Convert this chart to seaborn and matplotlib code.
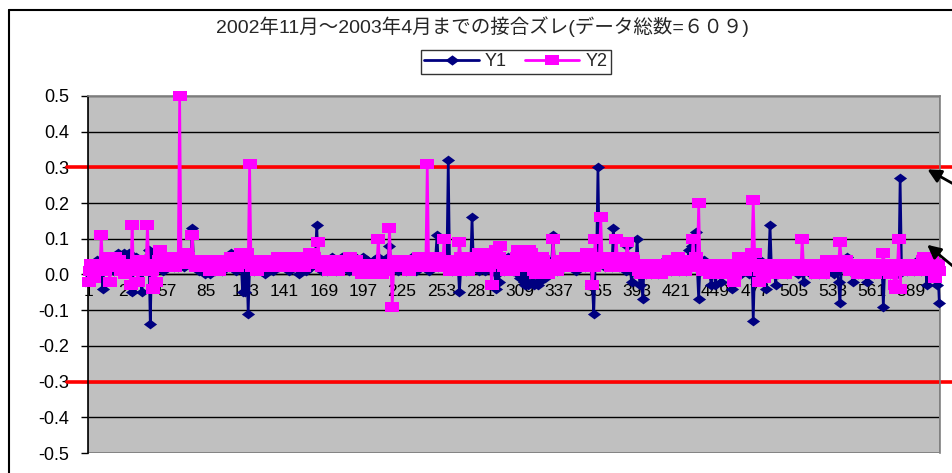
import matplotlib
matplotlib.use("Agg")
import matplotlib.pyplot as plt
from matplotlib.lines import Line2D
from matplotlib.patches import Rectangle
import pandas as pd
import seaborn as sns

TITLE = "2002年11月～2003年4月までの接合ズレ(データ総数=６０９)"
SERIES = ["Y1", "Y2"]
COLORS = {"Y1": "#000080", "Y2": "#FF00FF"}

# joint offset per record, 28 records per row
Y1 = [
    0.00, 0.02, 0.03, 0.01, 0.03, 0.02, 0.04, 0.03, 0.01, 0.02, -0.04, 0.03, 0.04, 0.02, 0.05, 0.03, 0.02, 0.04, 0.01, 0.03, 0.05, 0.06, 0.04, 0.03, 0.05, 0.06, 0.04, 0.05,
    0.04, 0.06, 0.03, -0.05, 0.02, 0.04, 0.05, 0.03, 0.02, 0.01, -0.05, 0.03, 0.04, 0.02, 0.05, 0.07, -0.14, 0.04, 0.06, 0.03, 0.05, 0.02, 0.04, 0.05, 0.03, 0.01, 0.04, 0.02,
    0.03, 0.02, 0.04, 0.03, 0.05, 0.02, 0.03, 0.04, 0.02, 0.03, 0.05, 0.04, 0.02, 0.03, 0.04, 0.05, 0.03, 0.04, 0.13, 0.03, 0.02, 0.04, 0.03, 0.01, 0.02, 0.04, 0.03, 0.00,
    0.01, 0.03, 0.02, 0.00, 0.02, 0.03, 0.01, 0.02, 0.04, 0.03, 0.02, 0.01, 0.03, 0.02, 0.04, 0.03, 0.02, 0.04, 0.06, 0.03, 0.02, 0.01, 0.03, 0.02, 0.04, 0.03, -0.05, 0.02,
    -0.05, 0.03, -0.11, 0.02, 0.03, 0.02, 0.01, 0.03, 0.02, 0.04, 0.03, 0.01, 0.02, 0.03, 0.00, 0.02, 0.03, 0.04, 0.02, 0.03, 0.01, 0.02, 0.04, 0.03, 0.02, 0.04, 0.03, 0.05,
    0.04, 0.02, 0.03, 0.01, 0.03, 0.04, 0.02, 0.03, 0.05, 0.02, 0.00, 0.03, 0.04, 0.02, 0.03, 0.01, 0.02, 0.04, 0.03, 0.02, 0.03, 0.05, 0.04, 0.14, 0.03, 0.02, 0.04, 0.01,
    0.02, 0.03, 0.01, 0.04, 0.02, 0.03, 0.05, 0.02, 0.03, 0.01, 0.04, 0.02, 0.03, 0.05, 0.03, 0.02, 0.04, 0.03, 0.01, 0.02, 0.04, 0.03, 0.05, 0.02, 0.03, 0.04, 0.02, 0.03,
    0.05, 0.03, 0.02, 0.04, 0.03, 0.01, 0.02, 0.03, 0.04, 0.02, 0.03, 0.05, 0.03, 0.02, 0.04, 0.01, 0.03, 0.02, 0.05, 0.08, 0.03, 0.02, 0.04, 0.03, 0.02, 0.01, 0.03, 0.04,
    0.02, 0.04, 0.03, 0.01, 0.02, 0.04, 0.03, 0.05, 0.02, 0.03, 0.01, 0.04, 0.02, 0.03, 0.05, 0.03, 0.02, 0.04, 0.03, 0.01, 0.03, 0.02, 0.04, 0.03, 0.05, 0.11, 0.02, 0.03,
    0.04, 0.02, 0.03, 0.05, 0.03, 0.32, 0.02, 0.04, 0.01, 0.03, 0.02, 0.04, 0.03, -0.05, 0.02, 0.03, 0.04, 0.02, 0.01, 0.03, 0.05, 0.02, 0.16, 0.03, 0.02, 0.04, 0.03, 0.01,
    0.02, 0.04, 0.03, 0.01, 0.05, 0.03, 0.02, 0.04, 0.01, 0.03, 0.02, -0.04, 0.00, -0.02, 0.03, 0.02, 0.04, 0.01, 0.03, 0.02, 0.05, 0.03, 0.02, 0.01, 0.03, 0.04, 0.02, 0.00,
    -0.01, 0.01, 0.02, -0.02, -0.03, 0.00, -0.03, 0.01, 0.02, -0.02, -0.03, 0.00, 0.01, -0.03, -0.02, 0.01, 0.02, 0.00, -0.01, 0.02, 0.03, 0.01, 0.02, 0.04, 0.11, 0.02, 0.03, 0.01,
    0.02, 0.04, 0.03, 0.05, 0.02, 0.03, 0.04, 0.03, 0.05, 0.02, 0.04, 0.03, 0.01, 0.03, 0.04, 0.02, 0.05, 0.03, 0.04, 0.02, 0.03, 0.05, 0.04, 0.02, -0.03, -0.11, 0.02, 0.04,
    0.30, 0.05, 0.04, 0.03, 0.05, 0.02, 0.04, 0.05, 0.03, 0.04, 0.02, 0.13, 0.05, 0.03, 0.04, 0.02, 0.03, 0.04, 0.02, 0.03, 0.01, 0.08, 0.03, 0.02, -0.02, 0.01, 0.03, 0.02,
    0.10, 0.02, -0.03, 0.01, -0.07, 0.02, 0.00, 0.03, 0.01, 0.02, 0.00, 0.03, 0.02, 0.01, 0.03, 0.00, 0.02, 0.01, 0.03, 0.02, 0.04, 0.01, 0.02, 0.03, 0.01, 0.02, 0.04, 0.03,
    0.02, 0.03, 0.01, 0.02, 0.04, 0.03, 0.02, 0.01, 0.03, 0.07, 0.05, 0.08, 0.06, 0.03, 0.12, 0.02, -0.07, 0.03, 0.01, 0.02, 0.04, 0.03, 0.02, 0.01, 0.00, -0.03, 0.02, 0.01,
    -0.03, 0.02, 0.01, 0.03, -0.02, 0.02, 0.03, 0.01, 0.02, 0.03, 0.00, 0.02, -0.04, 0.01, 0.02, 0.03, 0.01, 0.02, 0.00, 0.03, 0.02, 0.01, 0.03, 0.02, 0.00, 0.02, 0.03, -0.13,
    0.02, 0.02, 0.03, 0.01, 0.04, 0.02, 0.03, 0.01, -0.04, 0.02, 0.03, 0.14, 0.02, 0.01, 0.03, -0.03, 0.02, 0.00, 0.03, 0.02, 0.01, 0.03, 0.02, 0.00, 0.02, 0.03, 0.01, 0.02,
    0.03, 0.01, 0.02, 0.00, 0.03, 0.02, 0.01, -0.02, 0.02, 0.03, 0.01, 0.02, 0.00, 0.03, 0.02, 0.01, 0.02, 0.03, 0.00, 0.02, 0.01, 0.03, 0.02, 0.00, 0.01, 0.02, 0.03, 0.01,
    0.02, 0.00, 0.01, 0.03, -0.02, -0.08, 0.02, 0.03, 0.04, 0.02, 0.05, 0.02, 0.01, 0.03, -0.02, 0.02, 0.01, 0.03, 0.00, 0.02, 0.01, 0.00, 0.02, 0.01, -0.02, 0.02, 0.00, 0.01,
    0.02, 0.00, 0.01, 0.03, 0.02, 0.01, 0.00, 0.03, -0.09, 0.02, 0.01, 0.03, 0.02, 0.00, 0.01, 0.02, 0.03, 0.01, 0.02, 0.00, 0.27, 0.02, 0.01, 0.03, 0.02, 0.01, 0.03, 0.02,
    0.02, 0.03, 0.01, 0.02, 0.03, 0.04, 0.02, 0.01, 0.03, 0.04, 0.05, -0.03, 0.02, 0.03, 0.01, 0.02, 0.04, 0.03, -0.03, 0.01, -0.08,
]

Y2 = [
    -0.02, 0.01, 0.03, 0.02, -0.01, 0.02, 0.03, 0.01, 0.02, 0.11, 0.02, 0.03, 0.01, 0.04, 0.05, -0.02, 0.03, 0.02, 0.04, 0.05, 0.03, 0.02, 0.04, 0.01, 0.03, 0.02, 0.00, 0.03,
    0.02, 0.03, -0.03, 0.14, 0.02, 0.01, 0.03, -0.02, 0.02, 0.04, 0.03, 0.01, 0.02, 0.03, 0.14, 0.02, 0.03, 0.01, -0.04, 0.02, -0.02, 0.03, 0.04, 0.07, 0.03, 0.02, 0.04, 0.03,
    0.03, 0.04, 0.02, 0.05, 0.03, 0.04, 0.02, 0.03, 0.05, 0.50, 0.04, 0.05, 0.03, 0.06, 0.04, 0.05, 0.03, 0.04, 0.11, 0.03, 0.04, 0.02, 0.03, 0.04, 0.02, 0.03, 0.04, 0.02,
    0.03, 0.02, 0.04, 0.01, 0.03, 0.02, 0.04, 0.03, 0.02, 0.01, 0.03, 0.02, 0.04, 0.02, 0.03, 0.02, 0.04, 0.03, 0.05, 0.02, 0.03, 0.04, 0.02, 0.05, 0.04, 0.06, 0.03, 0.04,
    0.05, 0.06, 0.03, 0.31, 0.04, 0.02, 0.03, 0.02, 0.01, 0.03, 0.02, 0.03, 0.04, 0.02, 0.03, 0.04, 0.02, 0.03, 0.04, 0.03, 0.02, 0.04, 0.03, 0.05, 0.03, 0.04, 0.02, 0.03,
    0.04, 0.03, 0.02, 0.04, 0.03, 0.05, 0.02, 0.04, 0.03, 0.02, 0.04, 0.03, 0.05, 0.04, 0.02, 0.03, 0.04, 0.05, 0.06, 0.04, 0.03, 0.05, 0.04, 0.03, 0.09, 0.04, 0.03, 0.02,
    0.03, 0.04, 0.02, 0.03, 0.01, 0.04, 0.03, 0.02, 0.04, 0.03, 0.01, 0.03, 0.04, 0.02, 0.03, 0.04, 0.02, 0.03, 0.04, 0.05, 0.04, 0.03, 0.02, 0.04, 0.03, 0.01, 0.02, 0.00,
    0.02, 0.01, 0.03, 0.00, 0.02, 0.01, 0.03, 0.02, 0.00, 0.01, 0.03, 0.10, 0.02, 0.01, 0.00, 0.02, 0.01, 0.03, 0.02, 0.13, 0.03, -0.09, 0.02, 0.04, 0.03, 0.02, 0.04, 0.03,
    0.04, 0.03, 0.02, 0.04, 0.03, 0.01, 0.02, 0.04, 0.03, 0.02, 0.04, 0.03, 0.05, 0.02, 0.04, 0.03, 0.05, 0.04, 0.31, 0.03, 0.05, 0.04, 0.02, 0.03, 0.04, 0.02, 0.05, 0.03,
    0.04, 0.03, 0.10, 0.02, 0.04, 0.03, 0.01, 0.03, 0.04, 0.02, 0.03, 0.01, 0.04, 0.09, 0.05, 0.03, 0.02, 0.04, 0.03, 0.01, 0.02, 0.03, 0.04, 0.02, 0.05, 0.03, 0.04, 0.06,
    0.04, 0.03, 0.05, 0.02, 0.04, 0.03, 0.02, 0.05, -0.03, 0.06, 0.04, 0.07, 0.03, 0.05, 0.08, 0.04, 0.03, 0.02, 0.04, 0.01, 0.03, 0.02, 0.04, 0.01, 0.02, 0.03, 0.05, 0.07,
    0.06, 0.03, 0.05, 0.02, 0.04, 0.03, 0.05, 0.07, 0.06, 0.02, 0.01, 0.03, 0.00, 0.02, 0.01, 0.03, 0.05, 0.04, 0.01, 0.02, 0.00, 0.02, 0.03, 0.01, 0.10, 0.02, 0.03, 0.01,
    0.02, 0.03, 0.04, 0.02, 0.03, 0.05, 0.03, 0.04, 0.02, 0.04, 0.03, 0.05, 0.04, 0.03, 0.05, 0.04, 0.02, 0.03, 0.05, 0.04, 0.06, 0.03, 0.04, 0.05, -0.03, 0.02, 0.10, 0.04,
    0.03, 0.05, 0.16, 0.04, 0.03, 0.05, 0.04, 0.03, 0.05, 0.02, 0.04, 0.03, 0.03, 0.10, 0.04, 0.05, 0.03, 0.04, 0.02, 0.03, 0.05, 0.09, 0.03, 0.02, 0.05, 0.04, 0.03, 0.02,
    0.03, 0.01, 0.02, 0.00, 0.03, 0.02, 0.01, 0.03, 0.02, 0.00, 0.02, 0.03, 0.01, 0.02, 0.03, 0.01, 0.02, 0.00, 0.03, 0.02, 0.01, 0.03, 0.02, 0.04, 0.03, 0.02, 0.01, 0.03,
    0.04, 0.05, 0.03, 0.04, 0.02, 0.03, 0.01, 0.02, 0.03, 0.02, 0.04, 0.03, 0.10, 0.04, 0.05, 0.03, 0.20, 0.02, 0.03, 0.01, 0.02, 0.03, 0.01, 0.02, 0.00, 0.02, 0.01, 0.03,
    0.01, 0.02, 0.00, 0.02, 0.01, 0.03, 0.02, 0.00, 0.01, 0.02, 0.00, 0.03, 0.01, -0.02, 0.00, 0.02, 0.03, 0.05, 0.04, 0.02, 0.03, 0.01, 0.02, 0.05, 0.04, 0.03, 0.06, 0.21,
    0.06, 0.03, 0.02, -0.02, 0.01, 0.03, 0.00, -0.01, 0.02, 0.03, 0.01, 0.02, 0.03, 0.01, 0.02, 0.00, 0.03, 0.02, 0.01, 0.03, 0.02, 0.01, 0.00, 0.02, 0.03, 0.01, 0.02, 0.01,
    0.02, 0.03, 0.01, 0.02, 0.03, 0.01, 0.10, 0.02, 0.01, 0.03, 0.02, 0.01, 0.02, 0.03, 0.01, 0.02, 0.00, 0.02, 0.03, 0.01, 0.02, 0.00, 0.03, 0.02, 0.04, 0.03, 0.02, 0.03,
    0.04, 0.03, 0.02, 0.04, 0.03, 0.09, 0.04, 0.03, 0.02, 0.04, 0.03, 0.02, 0.01, 0.03, 0.02, 0.03, 0.01, 0.02, 0.00, 0.02, 0.01, 0.03, 0.02, 0.01, 0.00, 0.02, 0.01, 0.02,
    0.01, 0.02, 0.00, 0.03, 0.02, 0.01, 0.02, 0.03, 0.06, 0.02, 0.01, 0.03, 0.02, 0.00, 0.02, 0.01, -0.03, -0.04, 0.02, 0.10, -0.04, 0.03, 0.02, 0.01, 0.03, 0.02, 0.01, 0.03,
    0.02, 0.03, 0.01, 0.02, 0.03, 0.02, 0.01, 0.03, 0.04, 0.05, 0.03, 0.02, 0.01, 0.03, 0.02, 0.04, 0.01, -0.01, 0.02, 0.03, 0.01,
]

X_TICKS = [1, 29, 57, 85, 113, 141, 169, 197, 225, 253, 281, 309, 337, 365,
           393, 421, 449, 477, 505, 533, 561, 589]
Y_TICKS = [0.5, 0.4, 0.3, 0.2, 0.1, 0.0, -0.1, -0.2, -0.3, -0.4, -0.5]
Y_TICK_LABELS = ["0.5", "0.4", "0.3", "0.2", "0.1", "0.0",
                 "-0.1", "-0.2", "-0.3", "-0.4", "-0.5"]
LIMITS = [0.3, -0.3]

assert len(Y1) == 609 and len(Y2) == 609, (len(Y1), len(Y2))

records = list(range(1, len(Y1) + 1))
df = pd.DataFrame({"No": records, "Y1": Y1, "Y2": Y2}).melt(
    id_vars="No", var_name="series", value_name="value")

sns.set_theme(style="white")
plt.rcParams["font.family"] = ["Liberation Sans", "Noto Sans CJK JP", "DejaVu Sans"]

W, H = 953, 473
fig = plt.figure(figsize=(W / 100, H / 100), dpi=100)
fig.patch.set_facecolor("white")
ax = fig.add_axes([88 / W, 1 - 453 / H, 852 / W, 357 / H])
ax.set_facecolor("#C0C0C0")

# wide diamond and wide square markers
DIAMOND = [(-1.35, 0), (0, 1), (1.35, 0), (0, -1), (-1.35, 0)]
SQUARE = [(-1.4, -0.9), (1.4, -0.9), (1.4, 0.9), (-1.4, 0.9), (-1.4, -0.9)]
MARKERS = {"Y1": DIAMOND, "Y2": SQUARE}
MSIZE = {"Y1": 9.5, "Y2": 10.5}

for name in SERIES:
    sub = df[df["series"] == name]
    sns.lineplot(data=sub, x="No", y="value", ax=ax, color=COLORS[name],
                 marker=MARKERS[name], markersize=MSIZE[name],
                 markeredgewidth=0, linewidth=1.9, estimator=None,
                 sort=False, legend=False, zorder=3)
for ln in ax.lines:
    ln.set_clip_on(False)

# limit lines at +/-0.3
for v in LIMITS:
    ax.axhline(v, xmin=-0.025, xmax=1.02, color="#FF0000", lw=2.6,
               clip_on=False, zorder=2)

ax.set_xlim(0.5, len(Y1) + 0.5)
ax.set_ylim(-0.5, 0.5)
ax.set_yticks(Y_TICKS)
ax.set_yticklabels(Y_TICK_LABELS)
ax.set_xticks(X_TICKS)
ax.set_xticklabels([str(t) for t in X_TICKS])
ax.set_xlabel("")
ax.set_ylabel("")

ax.set_axisbelow(True)
ax.yaxis.grid(True, color="black", lw=1.0)
ax.xaxis.grid(False)

for side in ["top", "right"]:
    ax.spines[side].set_color("#808080")
    ax.spines[side].set_linewidth(1.2)
ax.spines["left"].set_color("black")
ax.spines["left"].set_linewidth(1.2)
ax.spines["bottom"].set_position(("data", 0))
ax.spines["bottom"].set_color("black")
ax.spines["bottom"].set_linewidth(1.0)
ax.spines["bottom"].set_zorder(1)
ax.add_patch(Rectangle((0, 0), 1, 1, transform=ax.transAxes, fill=False,
                       edgecolor="#808080", lw=1.2, zorder=1))

ax.tick_params(axis="y", left=True, length=5, width=1, direction="out",
               color="black", pad=8.5, labelsize=13, labelcolor="black")
ax.tick_params(axis="x", bottom=True, length=0, pad=7, labelsize=12.5,
               labelcolor="black")

fig.text(482 / W, 1 - 27 / H, TITLE, ha="center", va="center", fontsize=14,
         family=["Liberation Sans", "Noto Sans CJK JP", "DejaVu Sans"])

handles = [
    Line2D([], [], color=COLORS["Y1"], marker=DIAMOND, markersize=10, lw=2,
           markeredgewidth=0),
    Line2D([], [], color=COLORS["Y2"], marker=SQUARE, markersize=10.5, lw=2,
           markeredgewidth=0),
]
leg = fig.legend(handles, SERIES, loc="center", bbox_to_anchor=(516 / W, 1 - 62 / H),
                 ncol=2, frameon=True, fancybox=False, edgecolor="black",
                 fontsize=13, handlelength=3.0, columnspacing=1.0,
                 handletextpad=0.35, borderpad=0.2, borderaxespad=0)
leg.get_frame().set_linewidth(1.0)

# pointer arrows at the right edge
for head, tail in [((925, H - 168), (966, H - 191)), ((925, H - 243), (966, H - 277))]:
    ax.annotate("", xy=head, xycoords="figure pixels", xytext=tail,
                textcoords="figure pixels", annotation_clip=False,
                arrowprops=dict(arrowstyle="-|>", color="black", lw=2,
                                mutation_scale=20))

# outer chart frame
fig.add_artist(Line2D([9 / W, 9 / W], [0, 1 - 10 / H], transform=fig.transFigure,
                      color="black", lw=1.5))
fig.add_artist(Line2D([9 / W, 1], [1 - 10 / H, 1 - 10 / H], transform=fig.transFigure,
                      color="black", lw=1.5))

fig.savefig("out.png", dpi=100)
